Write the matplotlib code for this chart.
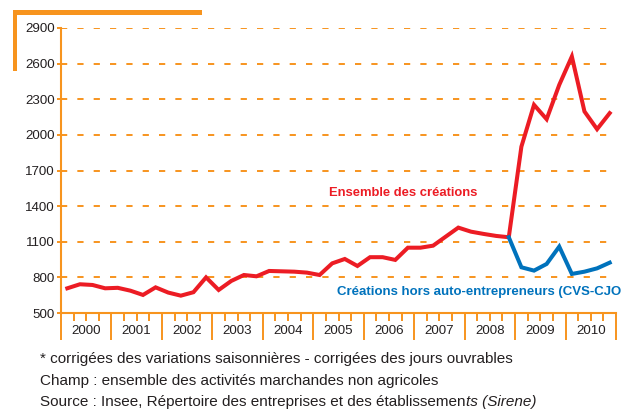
import matplotlib
matplotlib.use("Agg")
import matplotlib.pyplot as plt
from matplotlib.patches import Rectangle
from matplotlib.ticker import FixedLocator, NullFormatter

# -----------------------------------
# DONNÉES (créations trimestrielles, CVS-CJO)
# -----------------------------------

annees = [2000, 2001, 2002, 2003, 2004, 2005, 2006, 2007, 2008, 2009, 2010]
trimestres = [f"{a}T{t}" for a in annees for t in (1, 2, 3, 4)]

ensemble = [
    708, 742, 736, 708,
    712, 688, 652, 716,
    672, 646, 675, 800,
    694, 770, 820, 809,
    854, 851, 848, 840,
    820, 918, 955, 896,
    970, 970, 947, 1050,
    1050, 1067, 1143, 1219,
    1185, 1166, 1149, 1138,
    1901, 2253, 2132, 2421,
    2660, 2197, 2048, 2183,
]

debut_hors_ae = "2008T4"
hors_ae = [1138, 885, 857, 913, 1059, 829, 848, 876, 924]

graduations_y = [500, 800, 1100, 1400, 1700, 2000, 2300, 2600, 2900]

notes = [
    "* corrigées des variations saisonnières - corrigées des jours ouvrables",
    "Champ : ensemble des activités marchandes non agricoles",
]
source_debut = "Source : Insee, Répertoire des entreprises et des établissemen"
source_italique = "ts (Sirene)"

# -----------------------------------
# STYLE
# -----------------------------------

ORANGE = "#F7941E"
ROUGE = "#EC1C24"
BLEU = "#0072BC"
TEXTE = "#231F20"

plt.rcParams["font.family"] = ["Liberation Sans", "DejaVu Sans"]

fig = plt.figure(figsize=(6.21, 4.12), dpi=100)
ax = fig.add_axes([61 / 621, 1 - 313 / 412, 555 / 621, 285 / 412])

# -----------------------------------
# COURBES
# -----------------------------------

x_tous = [i + 0.5 for i in range(len(trimestres))]
i0 = trimestres.index(debut_hors_ae)
x_hors = x_tous[i0:i0 + len(hors_ae)]

ax.plot(x_tous, ensemble, color=ROUGE, linewidth=2.9, solid_joinstyle="miter",
        zorder=3)
ax.plot(x_hors, hors_ae, color=BLEU, linewidth=2.9, solid_joinstyle="miter",
        zorder=4)

ax.set_xlim(0, len(trimestres))
ax.set_ylim(graduations_y[0], graduations_y[-1])

# -----------------------------------
# AXES ET GRILLE
# -----------------------------------

for v in graduations_y[1:]:
    ax.axhline(v, xmax=0.987, color=ORANGE, linewidth=1.4,
               dashes=(3.2, 5.2), zorder=1)

for s in ("top", "right"):
    ax.spines[s].set_visible(False)
for s in ("left", "bottom"):
    ax.spines[s].set_color(ORANGE)
    ax.spines[s].set_linewidth(1.5)

ax.set_yticks(graduations_y)
ax.set_yticklabels([str(v) for v in graduations_y])
ax.tick_params(axis="y", direction="out", length=3, width=1.4, color=ORANGE,
               pad=1.5, labelsize=9.6, labelcolor=TEXTE)

limites_annees = [4 * k for k in range(len(annees) + 1)]
ax.xaxis.set_major_locator(FixedLocator(limites_annees))
ax.xaxis.set_major_formatter(NullFormatter())
ax.xaxis.set_minor_locator(FixedLocator(
    [q for q in range(len(trimestres)) if q % 4 != 0]))
ax.tick_params(axis="x", which="major", direction="out", length=19.5,
               width=1.4, color=ORANGE)
ax.tick_params(axis="x", which="minor", direction="out", length=6,
               width=1.4, color=ORANGE)

for k, a in enumerate(annees):
    ax.annotate(str(a), xy=(4 * k + 2, 0), xycoords=("data", "axes fraction"),
                xytext=(0, -13), textcoords="offset points",
                ha="center", va="center", fontsize=9.6, color=TEXTE)

# -----------------------------------
# ÉTIQUETTES DES SÉRIES
# -----------------------------------

ax.text(27.1, 1511, "Ensemble des créations", color=ROUGE, fontsize=9.4,
        fontweight="bold", ha="center", va="center")
ax.text(21.9, 680, "Créations hors auto-entrepreneurs (CVS-CJO*)", color=BLEU,
        fontsize=9.5, fontweight="bold", ha="left", va="center", clip_on=False)

# -----------------------------------
# CADRE ORANGE ET NOTES
# -----------------------------------

fig.add_artist(Rectangle((13 / 621, 1 - 15 / 412), 189 / 621, 4.5 / 412,
                         transform=fig.transFigure, color=ORANGE, lw=0))
fig.add_artist(Rectangle((12.7 / 621, 1 - 70.7 / 412), 4.6 / 621, 60 / 412,
                         transform=fig.transFigure, color=ORANGE, lw=0))

fig.text(40 / 621, 1 - 359 / 412, notes[0], fontsize=11, color=TEXTE,
         va="center")
fig.text(40 / 621, 1 - 381 / 412, notes[1], fontsize=11, color=TEXTE,
         va="center")
t_source = fig.text(40 / 621, 1 - 402 / 412, source_debut, fontsize=11,
                    color=TEXTE, va="center")
ax.annotate(source_italique, xy=(1, 0), xycoords=t_source, fontsize=11,
            color=TEXTE, style="italic", ha="left", va="bottom",
            annotation_clip=False)

fig.savefig("out.png", dpi=100)
